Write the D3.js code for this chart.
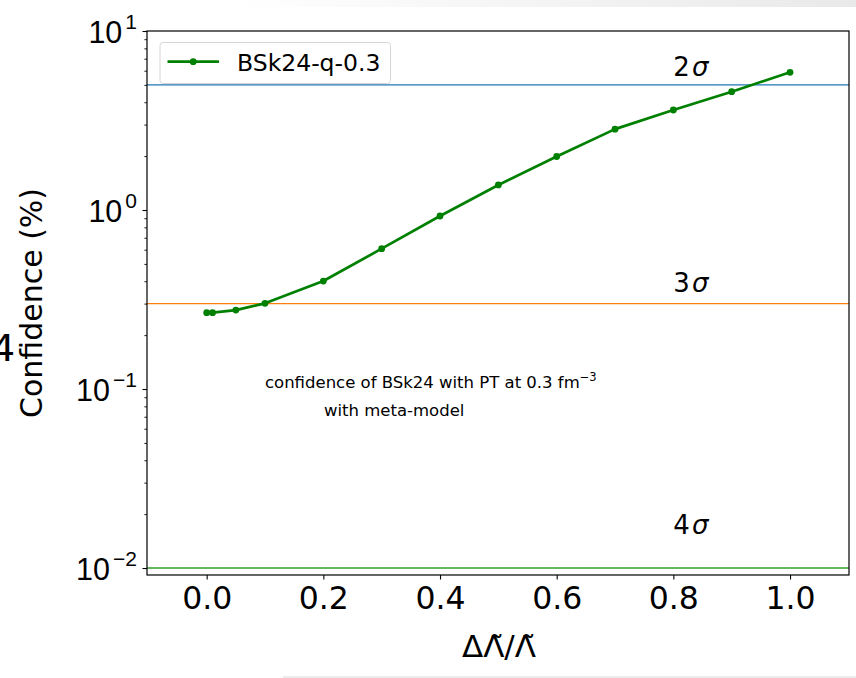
<!DOCTYPE html>
<html>
<head>
<meta charset="utf-8">
<script src="https://cdn.jsdelivr.net/npm/d3@7"></script>
<style>
  html, body { margin: 0; padding: 0; background: #fff; }
  svg { display: block; font-family: "DejaVu Sans", sans-serif; }
</style>
</head>
<body>
<svg></svg>
<script>
///////////////////////////////////////////
// Data
var deltaLambda = [0, 0.01, 0.05, 0.1, 0.2, 0.3, 0.4, 0.5, 0.6, 0.7, 0.8, 0.9, 1.0];
var confidence  = [0.267, 0.267, 0.276, 0.301, 0.401, 0.608, 0.926, 1.38, 1.99, 2.83, 3.62, 4.58, 5.88];
var seriesName  = "BSk24-q-0.3";

var sigmaLevels = [5, 0.3, 0.01];
var sigmaLabels = ["2", "3", "4"];
var sigmaLabelY = [5.6, 0.348, 0.0155];
var sigmaLabelX = 0.8;
var sigmaColors = ["#1f77b4", "#ff7f0e", "#2ca02c"];

var xTicks = [0, 0.2, 0.4, 0.6, 0.8, 1.0];
var yTicks = [0.01, 0.1, 1, 10];
var yExponents = ["\u22122", "\u22121", "0", "1"];

///////////////////////////////////////////
// Layout
var svgWidth = 856, svgHeight = 678;
var plot = {left: 147, right: 849, top: 31, bottom: 575};

var svg = d3.select("svg").attr("width", svgWidth).attr("height", svgHeight);

// faint page edges
var defs = svg.append("defs");
var grad = defs.append("linearGradient").attr("id", "topfade");
grad.append("stop").attr("offset", "0%").attr("stop-color", "#fff");
grad.append("stop").attr("offset", "100%").attr("stop-color", "#e9e9e9");
svg.append("rect").attr("x", 230).attr("y", 0).attr("width", 626).attr("height", 7).attr("fill", "url(#topfade)");
svg.append("rect").attr("x", 283).attr("y", 676).attr("width", 573).attr("height", 2).attr("fill", "#ececec");

// scales: 0 -> 206.7px, 1 -> 790px ; 10^1 at top, 10^-2 at 568px
var x = d3.scaleLinear().domain([-0.1023, 1.1011]).range([plot.left, plot.right]);
var y = d3.scaleLog().domain([Math.pow(10, -2.039), 10]).range([plot.bottom, plot.top]);

///////////////////////////////////////////
// Sigma lines
var g = svg.append("g");
g.selectAll("line.sigma").data(sigmaLevels).enter().append("line")
  .attr("class", "sigma")
  .attr("x1", plot.left).attr("x2", plot.right)
  .attr("y1", function(d){ return y(d); }).attr("y2", function(d){ return y(d); })
  .attr("stroke", function(d, i){ return sigmaColors[i]; })
  .attr("stroke-width", 1.3);

var sl = g.selectAll("text.sigma").data(sigmaLabels).enter().append("text")
  .attr("class", "sigma")
  .attr("x", x(sigmaLabelX))
  .attr("y", function(d, i){ return y(sigmaLabelY[i]); })
  .attr("font-size", 26).attr("fill", "#000");
sl.append("tspan").text(function(d){ return d; });
sl.append("tspan").attr("font-style", "italic").attr("dx", 2).text("\u03c3");

///////////////////////////////////////////
// Data line
var pts = deltaLambda.map(function(d, i){ return [d, confidence[i]]; });
var line = d3.line().x(function(d){ return x(d[0]); }).y(function(d){ return y(d[1]); });
g.append("path").datum(pts)
  .attr("d", line).attr("fill", "none")
  .attr("stroke", "green").attr("stroke-width", 2.7).attr("stroke-linejoin", "round");
g.selectAll("circle.pt").data(pts).enter().append("circle")
  .attr("class", "pt")
  .attr("cx", function(d){ return x(d[0]); })
  .attr("cy", function(d){ return y(d[1]); })
  .attr("r", 3.4).attr("fill", "green");

///////////////////////////////////////////
// Annotation
var ann = svg.append("g").attr("font-size", 16.5).attr("fill", "#000");
var a1 = ann.append("text").attr("x", 265).attr("y", 388);
a1.append("tspan").text("confidence of BSk24 with PT at 0.3 fm");
a1.append("tspan").attr("font-size", 11.5).attr("dy", -7).text("\u22123");
ann.append("text").attr("x", 324).attr("y", 416).text("with meta-model");

///////////////////////////////////////////
// Axes
var xAxis = svg.append("g").attr("transform", "translate(0," + plot.bottom + ")")
  .call(d3.axisBottom(x).tickValues(xTicks).tickSize(4.5).tickPadding(6).tickFormat(d3.format(".1f")));
xAxis.select(".domain").remove();
xAxis.selectAll("text").attr("font-size", 31.5).attr("fill", "#000").attr("font-family", "DejaVu Sans").attr("dy", null).attr("y", 33.5);
xAxis.selectAll("line").attr("stroke", "#000").attr("stroke-width", 1.1);

var minorTicks = [];
[-3, -2, -1, 0].forEach(function(e){
  for (var k = 2; k <= 9; k++) {
    var v = k * Math.pow(10, e);
    if (v >= y.domain()[0] && v <= 10) minorTicks.push(v);
  }
});
var yMinor = svg.append("g").attr("transform", "translate(" + plot.left + ",0)")
  .call(d3.axisLeft(y).tickValues(minorTicks).tickSize(2.6).tickFormat(""));
yMinor.select(".domain").remove();
yMinor.selectAll("line").attr("stroke", "#000").attr("stroke-width", 0.9);

var yAxis = svg.append("g").attr("transform", "translate(" + plot.left + ",0)")
  .call(d3.axisLeft(y).tickValues(yTicks).tickSize(4.5).tickFormat(""));
yAxis.select(".domain").remove();
yAxis.selectAll("line").attr("stroke", "#000").attr("stroke-width", 1.1);
yAxis.selectAll(".tick").append("text")
  .attr("x", -10).attr("y", 11.5)
  .attr("text-anchor", "end").attr("fill", "#000").attr("font-size", 30.5)
  .each(function(d, i){
    var t = d3.select(this);
    t.append("tspan").text("10");
    t.append("tspan").attr("font-size", 21).attr("dx", 3).attr("dy", -14.5).text(yExponents[i]);
  });

// frame
svg.append("rect")
  .attr("x", plot.left).attr("y", plot.top)
  .attr("width", plot.right - plot.left).attr("height", plot.bottom - plot.top)
  .attr("fill", "none").attr("stroke", "#000").attr("stroke-width", 1.2);

///////////////////////////////////////////
// Axis labels
svg.append("text")
  .attr("transform", "translate(42," + ((plot.top + plot.bottom) / 2) + ") rotate(-90)")
  .attr("text-anchor", "middle").attr("font-size", 30).attr("fill", "#000")
  .text("Confidence (%)");
svg.append("text")
  .attr("x", (plot.left + plot.right) / 2 + 1).attr("y", 657)
  .attr("text-anchor", "middle").attr("font-size", 31).attr("fill", "#000")
  .text("\u0394\u039b\u0303/\u039b\u0303");

// stray glyph cut at the left edge
svg.append("text").attr("x", -9).attr("y", 361).attr("font-size", 38).attr("fill", "#000").text("4");

///////////////////////////////////////////
// Legend
var lg = svg.append("g");
lg.append("rect").attr("x", 160).attr("y", 42.5).attr("width", 230.5).attr("height", 41)
  .attr("rx", 3).attr("fill", "#fff").attr("fill-opacity", 0.8)
  .attr("stroke", "#d6d6d6").attr("stroke-width", 1);
lg.append("line").attr("x1", 167.5).attr("x2", 219).attr("y1", 61.7).attr("y2", 61.7)
  .attr("stroke", "green").attr("stroke-width", 2.7);
lg.append("circle").attr("cx", 193.2).attr("cy", 61.7).attr("r", 3.4).attr("fill", "green");
lg.append("text").attr("x", 237).attr("y", 71).attr("font-size", 23.5).attr("fill", "#000").text(seriesName);
</script>
</body>
</html>
